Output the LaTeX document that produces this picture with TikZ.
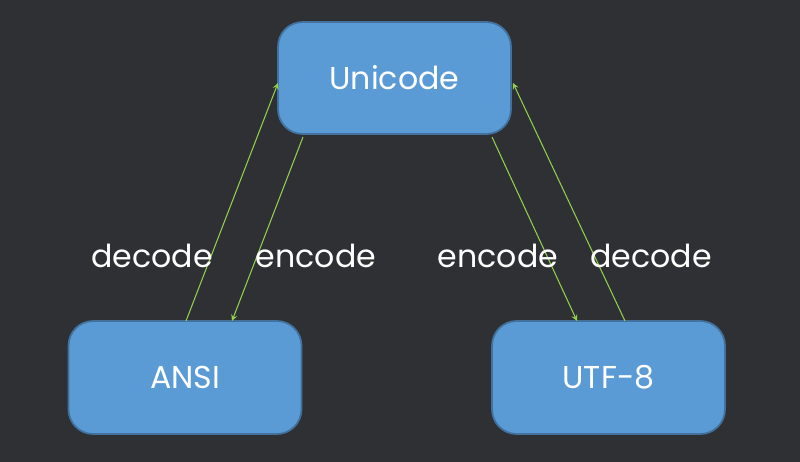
\documentclass[tikz,border=0pt]{standalone}
\usepackage{fontspec}
\setmainfont{Poppins}
\definecolor{bgdark}{HTML}{2E3033}
\definecolor{boxfill}{HTML}{5B9BD5}
\definecolor{boxline}{HTML}{41719C}
\definecolor{lime}{HTML}{92D050}
\begin{document}
\begin{tikzpicture}[
  x = 0.02cm,
  y = -0.02cm,
  box/.style = {
    shape = rectangle,
    rounded corners = 14pt,
    fill = boxfill,
    draw = boxline,
    line width = 1pt,
    minimum width = 4.66cm,
    minimum height = 2.26cm,
    text = white,
    font = \fontsize{18}{21}\selectfont,
  },
  lbl/.style = {
    text = white,
    font = \fontsize{18}{21}\selectfont,
  },
  link/.style = {
    ->,
    >=stealth,
    lime,
    line width = 0.6pt
  }
]
  \fill[bgdark] (0, 0) rectangle (800, 462);
  \useasboundingbox (0, 0) rectangle (800, 462);

  \node[box, minimum height = 2.24cm] (uni) at (394.5, 78) {Unicode};
  \node[box] (ansi) at (185, 377.5) {ANSI};
  \node[box] (utf) at (608.5, 377.5) {UTF-8};

  \coordinate (a1) at (186, 321);
  \coordinate (u1) at (278, 83);
  \coordinate (u2) at (303, 137);
  \coordinate (a2) at (232, 321);
  \coordinate (u3) at (492, 137);
  \coordinate (t1) at (577, 321);
  \coordinate (t2) at (625, 321);
  \coordinate (u4) at (513, 83);

  \draw[link] (a1) -- (u1);
  \draw[link] (u2) -- (a2);
  \draw[link] (u3) -- (t1);
  \draw[link] (t2) -- (u4);

  \node[lbl] (dec1) at (152, 256) {decode};
  \node[lbl] (enc1) at (316, 256) {encode};
  \node[lbl] (enc2) at (498, 256) {encode};
  \node[lbl] (dec2) at (651, 256) {decode};
\end{tikzpicture}
\end{document}
